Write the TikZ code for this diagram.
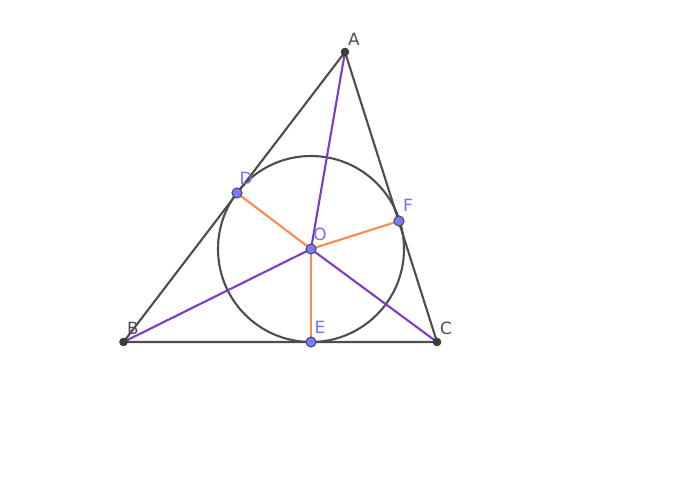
\documentclass[tikz,border=0pt]{standalone}
\usepackage{fontspec}
\setmainfont{DejaVu Sans}
\usetikzlibrary{positioning}

\definecolor{sidegray}{HTML}{4D4D4D}
\definecolor{bisect}{HTML}{7D3CC8}
\definecolor{radius}{HTML}{FF8A50}
\definecolor{ptblue}{HTML}{7A7AFF}
\definecolor{lblblue}{HTML}{6E6EFF}

\tikzset{
	side/.style={draw=sidegray, line width=1.2pt},
	bisector/.style={draw=bisect, line width=1.2pt},
	radial/.style={draw=radius, line width=1.2pt},
	vertexpt/.style={circle, fill=sidegray!80!black, draw=black!80, line width=0.4pt, inner sep=0pt, minimum size=4.4pt},
	footpt/.style={circle, fill=ptblue, draw=black!75, line width=0.5pt, inner sep=0pt, minimum size=5.8pt},
	vlabel/.style={text=sidegray, font=\fontsize{9.6}{11}\selectfont, inner sep=0pt},
	flabel/.style={text=lblblue, font=\fontsize{9.6}{11}\selectfont, inner sep=0pt}
}

\begin{document}
\begin{tikzpicture}[x=0.02cm, y=-0.02cm]
	% Frame
	\useasboundingbox (0,0) rectangle (700,500);
	
	% Parameters
	\def\inR{93}   % radius of incircle
	
	% Vertices, centre and touching points
	\coordinate (A) at (345,52);
	\coordinate (B) at (123.5,342);
	\coordinate (C) at (437,342);
	\coordinate (O) at (311,249);
	\coordinate (D) at (237,193);
	\coordinate (E) at (311,342);
	\coordinate (F) at (399,221);
	
	% Draw triangle and incircle
	\draw[side] (A) -- (B) -- (C) -- cycle;
	\draw[side] (O) circle [radius=\inR];
	
	% Angle bisectors
	\draw[bisector] (A) -- (O);
	\draw[bisector] (B) -- (O);
	\draw[bisector] (C) -- (O);
	
	% Radii to touching points
	\draw[radial] (O) -- (D);
	\draw[radial] (O) -- (E);
	\draw[radial] (O) -- (F);
	
	% Points
	\foreach \p in {A,B,C}
		\node[vertexpt] (dot\p) at (\p) {};
	\foreach \p in {O,D,E,F}
		\node[footpt] (dot\p) at (\p) {};
	
	% Labels
	\node[vlabel] (labA) at (354,39) {A};
	\node[vlabel] (labB) at (133,328) {B};
	\node[vlabel] (labC) at (446,328) {C};
	\node[flabel] (labD) at (246,178) {D};
	\node[flabel] (labE) at (320,327) {E};
	\node[flabel] (labF) at (408,205) {F};
	\node[flabel] (labO) at (320,234) {O};
	
\end{tikzpicture}
\end{document}
